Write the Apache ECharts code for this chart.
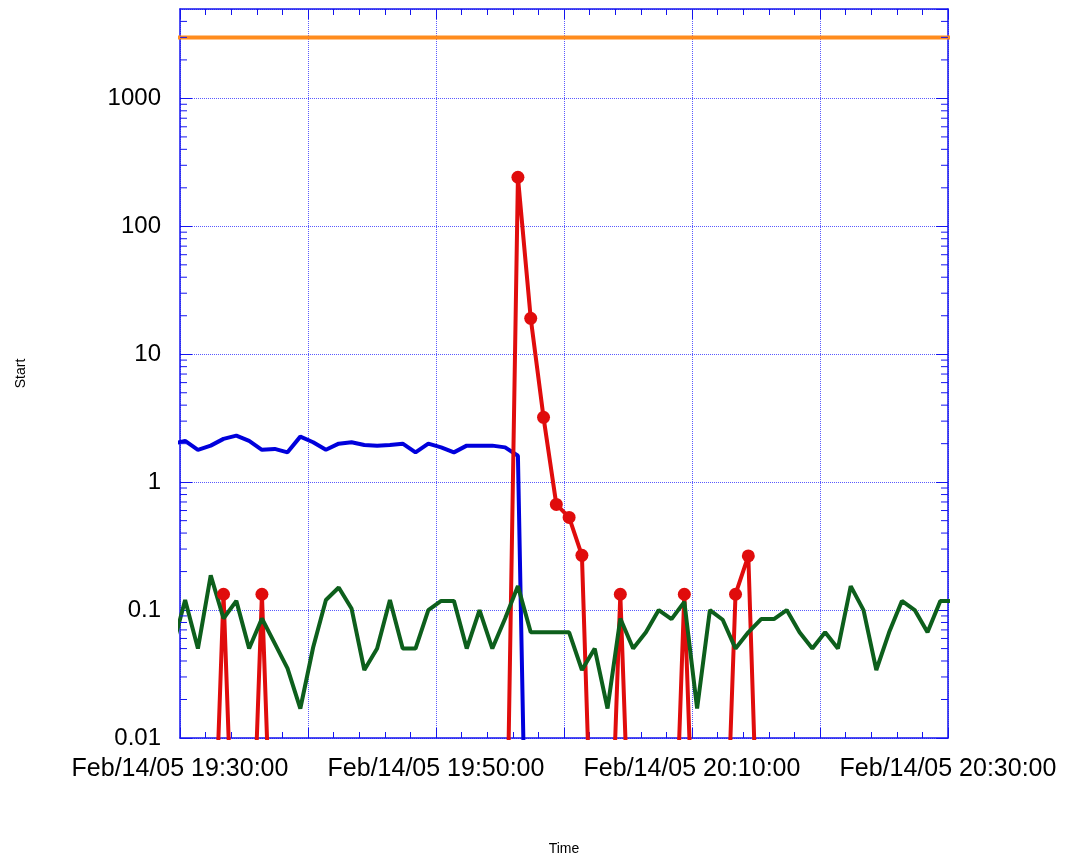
<!DOCTYPE html>
<html>
<head>
<meta charset="utf-8">
<script src="https://cdn.jsdelivr.net/npm/echarts@6/dist/echarts.min.js"></script>
<style>
  html, body { margin: 0; padding: 0; background: #fff; }
  #main { width: 1066px; height: 861px; }
</style>
</head>
<body>
<div id="main"></div>
<script>
// sample times (one per minute, Feb 14 2005)
const sampleTimes = [
  '19:29:24', '19:30:24', '19:31:24', '19:32:24', '19:33:24', '19:34:24', '19:35:24', '19:36:24',
  '19:37:24', '19:38:24', '19:39:24', '19:40:24', '19:41:24', '19:42:24', '19:43:24', '19:44:24',
  '19:45:24', '19:46:24', '19:47:24', '19:48:24', '19:49:24', '19:50:24', '19:51:24', '19:52:24',
  '19:53:24', '19:54:24', '19:55:24', '19:56:24', '19:57:24', '19:58:24', '19:59:24', '20:00:24',
  '20:01:24', '20:02:24', '20:03:24', '20:04:24', '20:05:24', '20:06:24', '20:07:24', '20:08:24',
  '20:09:24', '20:10:24', '20:11:24', '20:12:24', '20:13:24', '20:14:24', '20:15:24', '20:16:24',
  '20:17:24', '20:18:24', '20:19:24', '20:20:24', '20:21:24', '20:22:24', '20:23:24', '20:24:24',
  '20:25:24', '20:26:24', '20:27:24', '20:28:24', '20:29:24', '20:30:24'
];

// blue series (stops after the drop)
const blueValues = [
  2.0, 2.1, 1.79, 1.93, 2.18, 2.31, 2.1, 1.79, 1.82, 1.71, 2.27, 2.05, 1.79, 2.0, 2.05,
  1.95, 1.93, 1.95, 2.0, 1.71, 2.0, 1.87, 1.71, 1.93, 1.93, 1.93, 1.87, 1.61, 0.00001
];

// green series
const greenValues = [
  0.05, 0.12, 0.05, 0.187, 0.086, 0.118, 0.05, 0.086, 0.055, 0.035, 0.017, 0.051, 0.12, 0.15,
  0.103, 0.034, 0.05, 0.12, 0.05, 0.05, 0.1, 0.118, 0.118, 0.05, 0.1, 0.05, 0.086, 0.154,
  0.067, 0.067, 0.067, 0.067, 0.034, 0.05, 0.017, 0.086, 0.05, 0.067, 0.1, 0.085, 0.116,
  0.017, 0.1, 0.084, 0.05, 0.067, 0.085, 0.085, 0.1, 0.067, 0.05, 0.067, 0.05, 0.154, 0.1,
  0.034, 0.067, 0.118, 0.1, 0.067, 0.118, 0.118
];

// red series, Z = "zero" (far below the axis)
const Z = 0.0002;
const redValues = [
  Z, Z, Z, Z, 0.133, Z, Z, 0.133, Z, Z, Z, Z, Z, Z, Z, Z, Z, Z, Z, Z, Z, Z, Z, Z, Z, Z, Z,
  242, 19.1, 3.21, 0.67, 0.53, 0.268, Z, Z, 0.133, Z, Z, Z, Z, 0.133, Z, Z, Z, 0.133, 0.265,
  Z, Z, Z, Z, Z, Z, Z, Z, Z, Z, Z, Z, Z, Z, Z, Z
];

// orange limit line
const limitValue = 3000;

// axes
const xStart = '19:30:00';
const xEnd = '20:30:00';
const yLabels = [0.01, 0.1, 1, 10, 100, 1000];

const axisBlue = '#1414f0';
const gridBlue = '#5a5aff';
const MONTHS = ['Jan', 'Feb', 'Mar', 'Apr', 'May', 'Jun', 'Jul', 'Aug', 'Sep', 'Oct', 'Nov', 'Dec'];

function ts(hms) {
  const p = hms.split(':').map(Number);
  return Date.UTC(2005, 1, 14, p[0], p[1], p[2]);
}
function pad(n) { return (n < 10 ? '0' : '') + n; }
function fmtTime(v) {
  const d = new Date(v);
  return MONTHS[d.getUTCMonth()] + '/' + pad(d.getUTCDate()) + '/' + pad(d.getUTCFullYear() % 100) + ' ' +
    pad(d.getUTCHours()) + ':' + pad(d.getUTCMinutes()) + ':' + pad(d.getUTCSeconds());
}

const xMin = ts(xStart);
const xMax = ts(xEnd);
const tenMin = 10 * 60 * 1000;

function pairs(values) {
  return values.map((v, i) => [ts(sampleTimes[i]), v]);
}

// log minor ticks (2..9 per decade)
const yMinorTicks = [];
for (let e = -2; e <= 3; e++) {
  for (let m = 2; m <= 9; m++) {
    const v = m * Math.pow(10, e);
    if (v < 5000) yMinorTicks.push(v);
  }
}

const font = 'Liberation Sans';
const chart = echarts.init(document.getElementById('main'));

const option = {
  animation: false,
  backgroundColor: '#ffffff',
  grid: { left: 180, right: 118, top: 9, bottom: 123 },
  xAxis: [{
    type: 'value',
    min: xMin,
    max: xMax,
    interval: tenMin,
    name: 'Time',
    nameLocation: 'middle',
    nameGap: 104,
    nameTextStyle: { fontFamily: font, fontSize: 14, color: '#000' },
    axisLine: { onZero: false, lineStyle: { color: axisBlue, width: 1.5 } },
    axisTick: { inside: true, length: 10, lineStyle: { color: axisBlue } },
    minorTick: { show: true, splitNumber: 5, length: 6, lineStyle: { color: axisBlue } },
    splitLine: { show: true, lineStyle: { color: gridBlue, type: [1, 1], width: 1 } },
    axisLabel: {
      margin: 19,
      fontFamily: font,
      fontSize: 25,
      color: '#000',
      formatter: v => ((v - xMin) % (2 * tenMin) === 0 ? fmtTime(v) : '')
    }
  }, {
    type: 'value',
    position: 'top',
    min: xMin,
    max: xMax,
    interval: tenMin,
    axisLine: { show: true, onZero: false, lineStyle: { color: axisBlue, width: 1.5 } },
    axisTick: { inside: true, length: 10, lineStyle: { color: axisBlue } },
    minorTick: { show: true, splitNumber: 5, length: 6, lineStyle: { color: axisBlue } },
    splitLine: { show: false },
    axisLabel: { show: false }
  }],
  yAxis: [{
    type: 'log',
    logBase: 10,
    min: 0.01,
    max: 5000,
    interval: 1,
    name: 'Start',
    nameLocation: 'middle',
    nameGap: 152,
    nameTextStyle: { fontFamily: font, fontSize: 14, color: '#000' },
    axisLine: { show: true, onZero: false, lineStyle: { color: axisBlue, width: 1.5 } },
    axisTick: { inside: true, length: 12, lineStyle: { color: axisBlue } },
    splitLine: { show: true, lineStyle: { color: gridBlue, type: [1, 1], width: 1 } },
    axisLabel: {
      margin: 19,
      fontFamily: font,
      fontSize: 24,
      color: '#000',
      showMaxLabel: false,
      formatter: v => {
        const hit = yLabels.find(t => Math.abs(v - t) / t < 1e-6);
        return hit === undefined ? '' : String(hit);
      }
    }
  }, {
    type: 'log',
    logBase: 10,
    min: 0.01,
    max: 5000,
    interval: 1,
    position: 'right',
    axisLine: { show: true, onZero: false, lineStyle: { color: axisBlue, width: 1.5 } },
    axisTick: { inside: true, length: 12, lineStyle: { color: axisBlue } },
    splitLine: { show: false },
    axisLabel: { show: false }
  }],
  series: [{
    type: 'custom',
    silent: true,
    clip: false,
    z: 5,
    data: yMinorTicks.map(v => [xMin, v]),
    renderItem: (params, api) => {
      const v = api.value(1);
      const l = api.coord([xMin, v]);
      const r = api.coord([xMax, v]);
      return {
        type: 'group',
        children: [
          { type: 'line', shape: { x1: l[0], y1: l[1], x2: l[0] + 7, y2: l[1] }, style: { stroke: axisBlue, lineWidth: 1 } },
          { type: 'line', shape: { x1: r[0] - 7, y1: r[1], x2: r[0], y2: r[1] }, style: { stroke: axisBlue, lineWidth: 1 } }
        ]
      };
    }
  }, {
    name: 'limit',
    type: 'line',
    data: [[ts(sampleTimes[0]), limitValue], [ts(sampleTimes[sampleTimes.length - 1]), limitValue]],
    showSymbol: false,
    lineStyle: { color: '#ff8c1e', width: 4 },
    itemStyle: { color: '#ff8c1e' }
  }, {
    name: 'blue',
    type: 'line',
    data: pairs(blueValues),
    showSymbol: false,
    lineStyle: { color: '#0000dc', width: 4 },
    itemStyle: { color: '#0000dc' }
  }, {
    name: 'red',
    type: 'line',
    data: pairs(redValues),
    symbol: 'circle',
    symbolSize: val => (val[1] > 0.01 ? 13 : 0),
    lineStyle: { color: '#e00c0c', width: 4 },
    itemStyle: { color: '#e00c0c' }
  }, {
    name: 'green',
    type: 'line',
    data: pairs(greenValues),
    showSymbol: false,
    lineStyle: { color: '#0d5f1c', width: 4 },
    itemStyle: { color: '#0d5f1c' }
  }]
};

chart.setOption(option);
</script>
</body>
</html>
